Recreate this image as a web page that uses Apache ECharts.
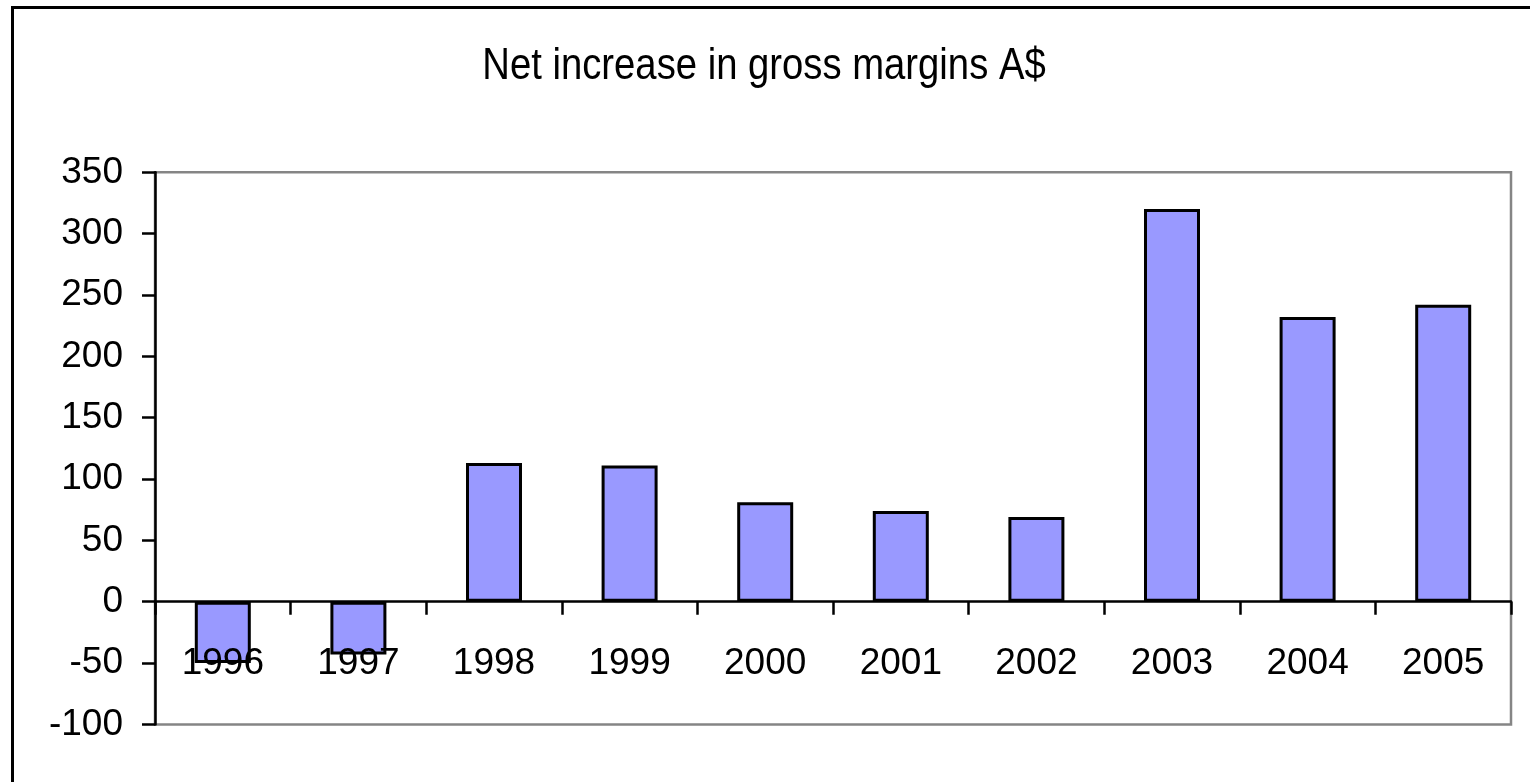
<!DOCTYPE html>
<html>
<head>
<meta charset="utf-8">
<script src="https://cdn.jsdelivr.net/npm/echarts@6/dist/echarts.min.js"></script>
<style>
html,body{margin:0;padding:0;background:#fff;}
#chart{width:1530px;height:782px;}
</style>
</head>
<body>
<div id="chart"></div>
<script>
const titleText = 'Net increase in gross margins A$';
const categories = ['1996','1997','1998','1999','2000','2001','2002','2003','2004','2005'];
const values = [-50, -43, 113, 111, 81, 74, 69, 320, 232, 242];
const yMin = -100, yMax = 350, yStep = 50;

const FONT = '"Liberation Sans", Arial, sans-serif';
const chart = echarts.init(document.getElementById('chart'), null, {renderer: 'canvas'});
chart.setOption({
  backgroundColor: '#ffffff',
  animation: false,
  graphic: [
    {
      type: 'rect', z: 0, silent: true,
      shape: {x: 12.5, y: 7.5, width: 1700, height: 900},
      style: {fill: 'none', stroke: '#000', lineWidth: 3}
    },
    {
      type: 'text', z: 10, silent: true,
      x: 764, y: 67, scaleX: 0.85,
      style: {
        text: titleText, font: '45px ' + FONT, fill: '#000',
        align: 'center', verticalAlign: 'middle'
      }
    }
  ],
  grid: {
    left: 155, right: 19, top: 172.3, bottom: 57.6,
    outerBoundsMode: 'none', containLabel: false,
    show: true, borderColor: '#858585', borderWidth: 2.5, backgroundColor: 'transparent'
  },
  xAxis: {
    type: 'category',
    data: categories,
    z: 3,
    boundaryGap: true,
    axisLine: {show: true, onZero: true, lineStyle: {color: '#000', width: 2.5}},
    axisTick: {show: true, length: 13, lineStyle: {color: '#000', width: 2.5}},
    axisLabel: {color: '#000', fontSize: 37, fontFamily: FONT, margin: -79, interval: 0},
    splitLine: {show: false}
  },
  yAxis: {
    type: 'value',
    min: yMin, max: yMax, interval: yStep,
    axisLine: {show: true, onZero: false, lineStyle: {color: '#000', width: 2.5}},
    axisTick: {show: true, length: 13, lineStyle: {color: '#000', width: 2.5}},
    axisLabel: {color: '#000', fontSize: 37, fontFamily: FONT, margin: 32},
    splitLine: {show: false}
  },
  series: [{
    type: 'bar',
    data: values,
    barWidth: 56,
    itemStyle: {color: '#9999FF', borderColor: '#000', borderWidth: 3}
  }]
});
</script>
</body>
</html>
